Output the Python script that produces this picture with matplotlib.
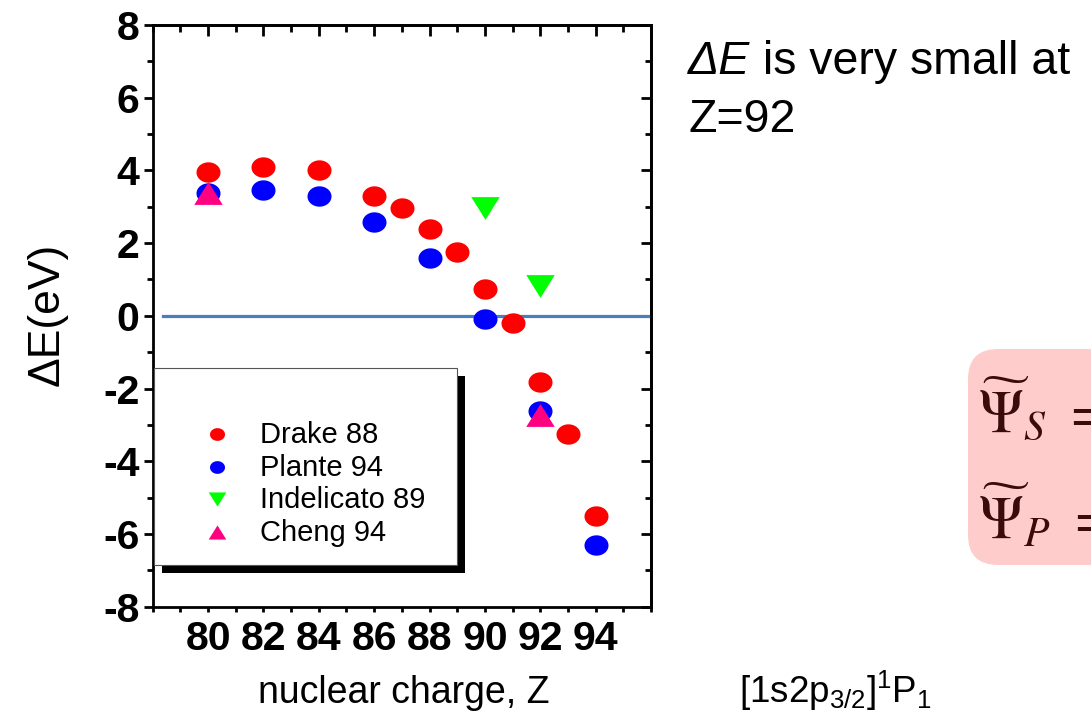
import matplotlib
matplotlib.use('Agg')
import matplotlib.pyplot as plt
import numpy as np
from matplotlib.path import Path
from matplotlib.patches import FancyBboxPatch, Rectangle
from matplotlib.lines import Line2D
from matplotlib.ticker import MultipleLocator, NullFormatter

plt.rcParams['font.family'] = ['Liberation Sans', 'DejaVu Sans']
plt.rcParams['axes.unicode_minus'] = False
plt.rcParams['mathtext.fontset'] = 'custom'
plt.rcParams['mathtext.rm'] = 'Liberation Sans'
plt.rcParams['mathtext.it'] = 'Liberation Sans:italic'
plt.rcParams['mathtext.bf'] = 'Liberation Sans:bold'

# data
drake_z = [80, 82, 84, 86, 87, 88, 89, 90, 91, 92, 93, 94]
drake_de = [3.97, 4.10, 4.02, 3.31, 2.96, 2.38, 1.76, 0.73, -0.20, -1.81, -3.24, -5.50]
plante_z = [80, 82, 84, 86, 88, 90, 92, 94]
plante_de = [3.38, 3.46, 3.31, 2.58, 1.60, -0.09, -2.63, -6.30]
indel_z = [90, 92]
indel_de = [2.97, 0.83]
cheng_z = [80, 92]
cheng_de = [3.38, -2.72]
labels = ['Drake 88', 'Plante 94', 'Indelicato 89', 'Cheng 94']
x_ticks = [80, 82, 84, 86, 88, 90, 92, 94]
y_ticks = [-8, -6, -4, -2, 0, 2, 4, 6, 8]

W, H = 1091, 717
fig = plt.figure(figsize=(W / 100, H / 100), dpi=100)


def px(x, y):
    # pixel position (from top-left) -> inches from bottom-left
    return x / 100, (H - y) / 100


# stretched markers like in the pasted slide picture
t = np.linspace(0, 2 * np.pi, 80)
ellipse = Path(np.column_stack([1.18 * np.cos(t), np.sin(t)]), closed=True)
tri_down = Path([(-1, 0.8), (1, 0.8), (0, -0.8), (-1, 0.8)], closed=True)
tri_up = Path([(-1, -0.8), (1, -0.8), (0, 0.8), (-1, -0.8)], closed=True)

series = [
    (drake_z, drake_de, '#ff0000', ellipse, 17.3, 10.8),
    (plante_z, plante_de, '#0000ff', ellipse, 17.3, 10.8),
    (indel_z, indel_de, '#00ff00', tri_down, 20.5, 12.7),
    (cheng_z, cheng_de, '#ff0080', tri_up, 20.5, 12.7),
]

ax = fig.add_axes([152.7 / W, 1 - 606.7 / H, (651 - 152.7) / W, (606.7 - 25) / H])
ax.set_xlim(78, 96)
ax.set_ylim(-8, 8)

ax.axhline(0, xmin=0.02, xmax=1, color='#4a7ebb', lw=2.3, zorder=1)

for z, de, col, mk, ms, _ in series:
    ax.plot(z, de, ls='none', marker=mk, ms=ms, mfc=col, mec='none', zorder=3)

for s in ax.spines.values():
    s.set_linewidth(2)

ax.set_xticks(x_ticks)
ax.xaxis.set_minor_locator(MultipleLocator(1))
ax.set_yticks(y_ticks)
ax.yaxis.set_minor_locator(MultipleLocator(1))
ax.tick_params(axis='x', which='both', direction='out', length=3.8, width=2,
               labelsize=29.5, pad=6, top=False)
ax.tick_params(axis='y', which='major', direction='out', length=6.5, width=2,
               labelsize=29.5, pad=3, right=False)
ax.tick_params(axis='y', which='minor', direction='out', length=4.3, width=2, right=False)
for lab in ax.get_xticklabels() + ax.get_yticklabels():
    lab.set_fontweight('bold')

# inward ticks on top and right
top = ax.secondary_xaxis('top')
top.set_xticks(x_ticks)
top.xaxis.set_minor_locator(MultipleLocator(1))
top.xaxis.set_major_formatter(NullFormatter())
top.tick_params(which='major', direction='in', length=8, width=2)
top.tick_params(which='minor', direction='in', length=5, width=2)
top.spines['top'].set_linewidth(2)

right = ax.secondary_yaxis('right')
right.set_yticks(y_ticks)
right.yaxis.set_minor_locator(MultipleLocator(1))
right.yaxis.set_major_formatter(NullFormatter())
right.tick_params(which='major', direction='in', length=7, width=2)
right.tick_params(which='minor', direction='in', length=4.3, width=2)
right.spines['right'].set_linewidth(2)

fig.text(404 / W, 1 - 703 / H, 'nuclear charge, Z', fontsize=27,
         ha='center', va='baseline')
fig.text(47 / W, 1 - 314 / H, 'ΔE(eV)', fontsize=32, rotation=90,
         ha='center', va='center')

# legend box with a hard black shadow
x0, y0 = px(154, 565)
bw, bh = (457 - 154) / 100, (565 - 368) / 100
fig.add_artist(Rectangle((x0 + 0.08, y0 - 0.08), bw, bh, transform=fig.dpi_scale_trans,
                         facecolor='black', edgecolor='none', zorder=5))
fig.add_artist(Rectangle((x0, y0), bw, bh, transform=fig.dpi_scale_trans,
                         facecolor='white', edgecolor='#555555', lw=0.8, zorder=6))
for i, (lab, (_, _, col, mk, _, lms)) in enumerate(zip(labels, series)):
    base = 443 + 32.6 * i
    mx, my = px(217, base - 9)
    fig.add_artist(Line2D([mx], [my], transform=fig.dpi_scale_trans, ls='none',
                          marker=mk, ms=lms, mfc=col, mec='none', zorder=7))
    tx, ty = px(260, base)
    fig.text(tx, ty, lab, transform=fig.dpi_scale_trans, fontsize=21,
             va='baseline', zorder=7)

# annotation text on the right
t1 = fig.text(688 / W, 1 - 74 / H, 'ΔE', style='italic', fontsize=33.5, va='baseline')
fig.canvas.draw()
bb = t1.get_window_extent()
fig.text(bb.x1 / W, 1 - 74 / H, ' is very small at', fontsize=33.5, va='baseline')
fig.text(688 / W, 1 - 132 / H, 'Z=92', fontsize=33.5, va='baseline')

fig.text(739 / W, 1 - 703 / H, r'$\mathrm{[1s2p_{3/2}]^{1}P_{1}}$', fontsize=26.5,
         va='baseline')

# pink formula box cut at the right edge
bx, by = px(968, 565)
fig.add_artist(FancyBboxPatch((bx, by), 2.0, 2.16, transform=fig.dpi_scale_trans,
                              boxstyle='round,pad=0,rounding_size=0.3',
                              facecolor='#ffcccc', edgecolor='none', zorder=2))
for yy, sub in [(410, 'S'), (517, 'P')]:
    fx, fy = px(978, yy)
    fig.text(fx, fy, r'$\widetilde{\Psi}_{%s}\ =$' % sub, transform=fig.dpi_scale_trans,
             fontsize=43, color='#3a0b0b', va='center', math_fontfamily='stix',
             zorder=3)

fig.savefig('out.png', dpi=100)
